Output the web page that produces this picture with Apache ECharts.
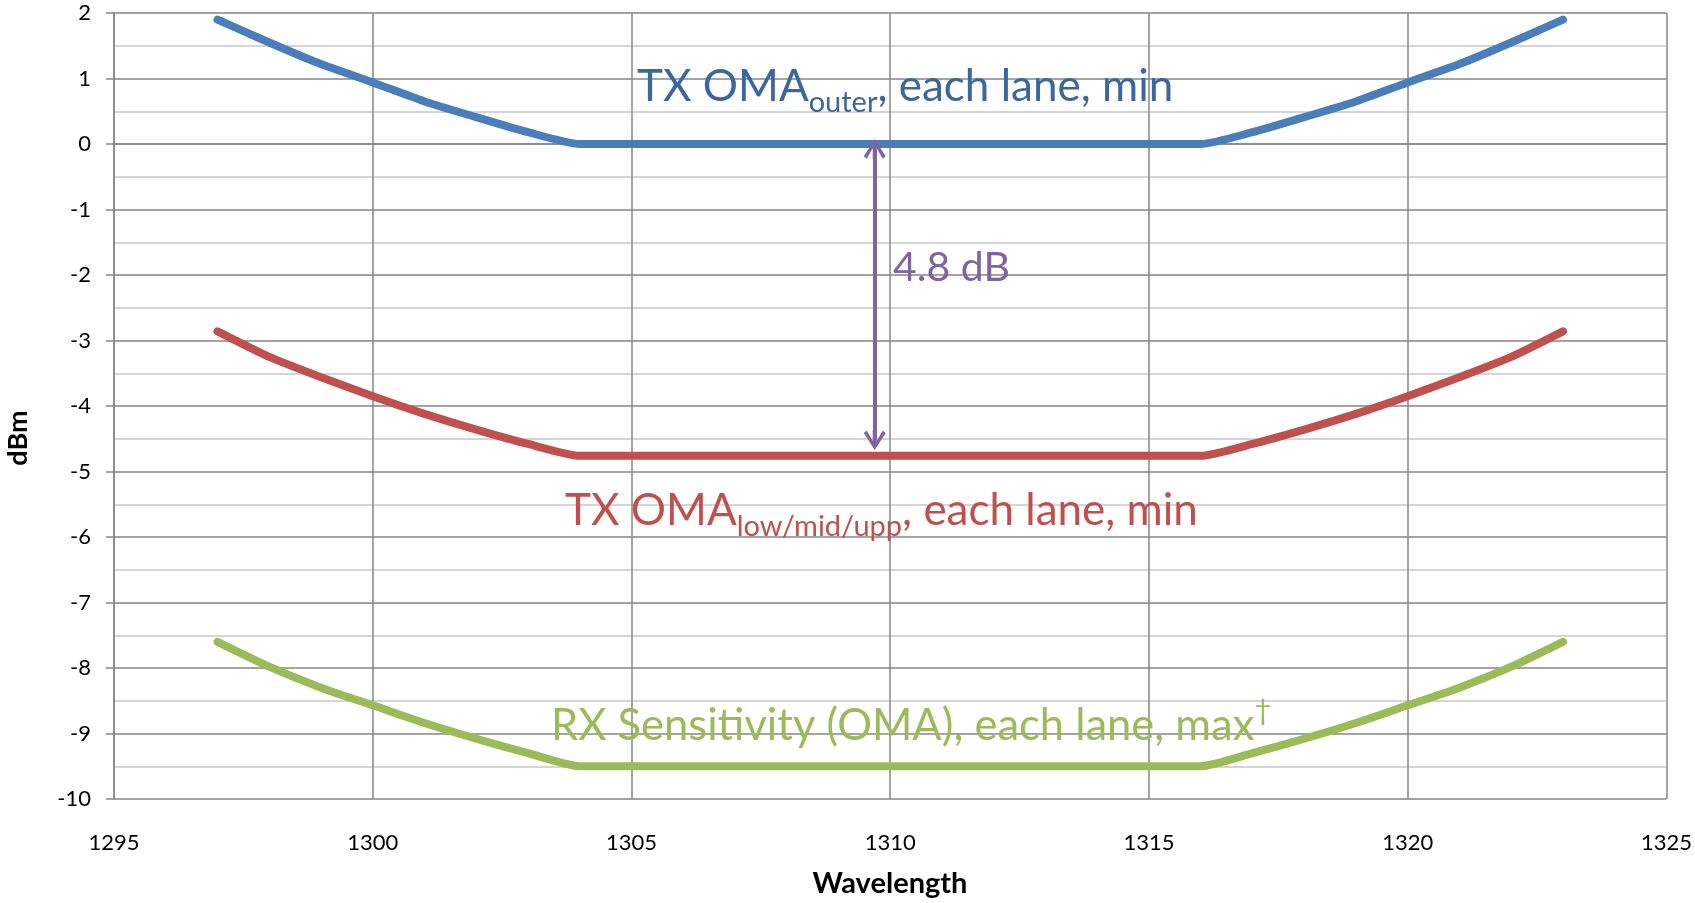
<!DOCTYPE html>
<html>
<head>
<meta charset="utf-8">
<script src="https://cdn.jsdelivr.net/npm/echarts@6/dist/echarts.min.js"></script>
<style>
html, body { margin: 0; padding: 0; background: #fff; }
#chart { width: 1695px; height: 903px; }
</style>
</head>
<body>
<div id="chart"></div>
<script>
// wavelength (nm)
var wavelength = [1297, 1298, 1299, 1300, 1301, 1302, 1303, 1304, 1305, 1306, 1307, 1308, 1309, 1310,
    1311, 1312, 1313, 1314, 1315, 1316, 1317, 1318, 1319, 1320, 1321, 1322, 1323];
// TX OMA outer, each lane, min (dBm)
var txOuter = [1.9, 1.55, 1.22, 0.94, 0.65, 0.41, 0.18, 0, 0, 0, 0, 0, 0, 0,
    0, 0, 0, 0, 0, 0, 0.18, 0.41, 0.65, 0.94, 1.22, 1.55, 1.9];
// TX OMA low/mid/upp, each lane, min (dBm)
var txLowMidUpp = [-2.86, -3.25, -3.56, -3.85, -4.12, -4.36, -4.58, -4.76, -4.76, -4.76, -4.76, -4.76, -4.76, -4.76,
    -4.76, -4.76, -4.76, -4.76, -4.76, -4.76, -4.58, -4.36, -4.12, -3.85, -3.56, -3.25, -2.86];
// RX sensitivity (OMA), each lane, max (dBm)
var rxSens = [-7.6, -7.98, -8.3, -8.57, -8.84, -9.08, -9.3, -9.5, -9.5, -9.5, -9.5, -9.5, -9.5, -9.5,
    -9.5, -9.5, -9.5, -9.5, -9.5, -9.5, -9.3, -9.08, -8.84, -8.57, -8.3, -7.98, -7.6];
// 4.8 dB arrow (data coords)
var arrowX = 1309.7;
var arrowFrom = -0.08;
var arrowTo = -4.52;

var chart = echarts.init(document.getElementById('chart'));

function pairs(ys) {
    var out = [];
    for (var i = 0; i < wavelength.length; i++) {
        out.push([wavelength[i], ys[i]]);
    }
    return out;
}

var majorColor = '#868686';
var minorColor = '#c8c8c8';
var txtFont = 'Lato';
// arrow head: chevron with a bit of stem
var headPath = 'path://M11,0 L22,17 L19,19.5 L13,9 L13,20 L9,20 L9,9 L3,19.5 L0,17 Z';

function lineSeries(name, ys, color, extra) {
    var s = {
        name: name,
        type: 'line',
        data: pairs(ys),
        showSymbol: false,
        symbol: 'none',
        smooth: 0.2,
        silent: true,
        lineStyle: { color: color, width: 8, cap: 'round', join: 'round' },
        z: 3
    };
    if (extra) {
        for (var k in extra) s[k] = extra[k];
    }
    return s;
}

// annotation text with a sub/superscript part
function noteText(x, y, text, color, mainSize, subAlign, subLineHeight) {
    return {
        type: 'text', x: x, y: y, z: 10,
        style: {
            text: text,
            align: 'left', verticalAlign: 'top', fill: color,
            rich: {
                m: { fontFamily: txtFont, fontSize: mainSize, lineHeight: 60, fill: color },
                s: { fontFamily: txtFont, fontSize: 29, lineHeight: subLineHeight, verticalAlign: subAlign, fill: color }
            }
        }
    };
}

var option = {
    animation: false,
    backgroundColor: '#fff',
    grid: { left: 114, top: 13, width: 1553, height: 786, containLabel: false },
    xAxis: {
        type: 'value',
        min: 1295,
        max: 1325,
        interval: 5,
        axisLine: { show: true, lineStyle: { color: majorColor, width: 1.5 } },
        axisTick: { show: false },
        axisLabel: {
            margin: 33, fontFamily: 'Lato', fontSize: 22, color: '#000',
            formatter: function (v) { return String(v); }
        },
        splitLine: { show: true, lineStyle: { color: majorColor, width: 1.5 } }
    },
    yAxis: {
        type: 'value',
        min: -10,
        max: 2,
        interval: 1,
        axisLine: { show: true, onZero: false, lineStyle: { color: majorColor, width: 1.5 } },
        axisTick: { show: true, inside: false, length: 8, lineStyle: { color: majorColor, width: 1.5 } },
        axisLabel: { margin: 23, fontFamily: 'Lato', fontSize: 22, color: '#000' },
        splitLine: { show: true, lineStyle: { color: majorColor, width: 1.5 } },
        minorTick: { show: false, splitNumber: 2 },
        minorSplitLine: { show: true, lineStyle: { color: minorColor, width: 1.5 } }
    },
    series: [
        lineSeries('TX OMA outer', txOuter, '#4a7ebb', {
            markLine: {
                silent: true,
                symbol: [headPath, headPath],
                symbolSize: [22, 20],
                label: { show: false },
                lineStyle: { color: '#8064a2', width: 4, type: 'solid' },
                emphasis: { disabled: true },
                data: [[{ coord: [arrowX, arrowFrom] }, { coord: [arrowX, arrowTo] }]]
            }
        }),
        lineSeries('TX OMA low/mid/upp', txLowMidUpp, '#c0504d'),
        lineSeries('RX Sensitivity', rxSens, '#9bbb59')
    ],
    graphic: [
        {
            type: 'text', x: 18, y: 438, rotation: Math.PI / 2,
            style: { text: 'dBm', fontFamily: 'Lato', fontWeight: 'bold', fontSize: 27, fill: '#000',
                align: 'center', verticalAlign: 'middle' }
        },
        {
            type: 'text', x: 890, y: 884,
            style: { text: 'Wavelength', fontFamily: 'Lato', fontWeight: 'bold', fontSize: 29, fill: '#000',
                align: 'center', verticalAlign: 'middle' }
        },
        noteText(637, 57, '{m|TX OMA}{s|outer}{m|, each lane, min}', '#3b679e', 44, 'bottom', 15),
        noteText(565, 481, '{m|TX OMA}{s|low/mid/upp}{m|, each lane, min}', '#c0504d', 44, 'bottom', 15),
        noteText(551, 696, '{m|RX Sensitivity (OMA), each lane, max}{s|†}', '#9bbb59', 43.5, 'top', 54),
        {
            type: 'text', x: 893, y: 268, z: 10,
            style: { text: '4.8 dB', fontFamily: txtFont, fontSize: 41, fill: '#8064a2',
                align: 'left', verticalAlign: 'middle' }
        }
    ]
};

chart.setOption(option);
window.addEventListener('resize', function () {
    chart.resize();
});
</script>
</body>
</html>
